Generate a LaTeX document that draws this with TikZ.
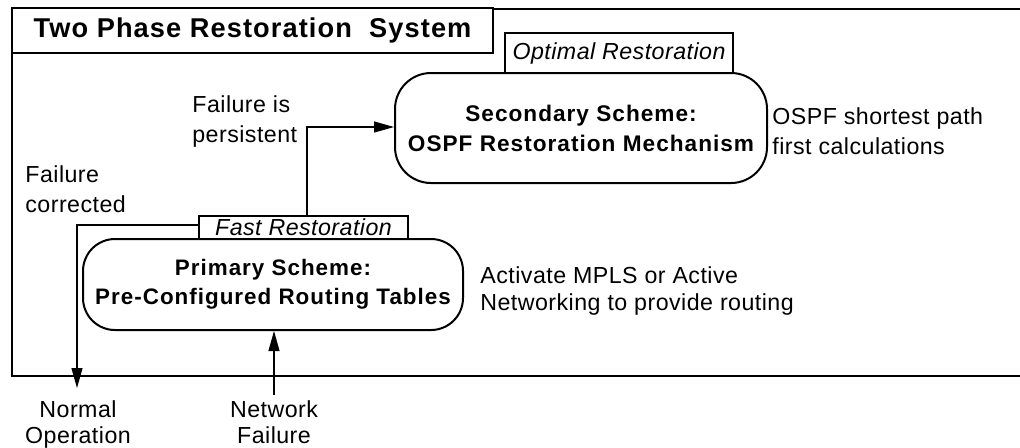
\documentclass[tikz,border=0pt]{standalone}
\usepackage{fontspec}
\setmainfont{Liberation Sans}
\newfontfamily\regf[LetterSpace=2]{Liberation Sans}
\newfontfamily\boldf[LetterSpace=4.5]{Liberation Sans}
\newfontfamily\titlef[LetterSpace=4]{Liberation Sans}
\usetikzlibrary{arrows.meta}
\begin{document}
\begin{tikzpicture}[x=0.5pt,y=-0.5pt,
  frame/.style={line width=1.1pt},
  sbox/.style={draw, line width=1pt, align=center, inner sep=0pt,
    font=\boldf\bfseries\fontsize{11.2}{14.5}\selectfont},
  tabbox/.style={draw, line width=0.9pt, inner sep=0pt,
    font=\regf\itshape\fontsize{11.6}{14}\selectfont},
  lbl/.style={inner sep=0pt, font=\regf\fontsize{11.6}{14.5}\selectfont},
  conn/.style={line width=0.55pt},
  tip/.style={-{Triangle[length=10pt,width=5.5pt]}}]
\useasboundingbox (0,0) rectangle (1020,447);
% outer frame
\draw[frame] (1020,9) -- (12,9) -- (12,376) -- (1020,376);
% title
\node[draw, line width=1pt, fill=white, inner sep=0pt,
  minimum width=240.5pt, minimum height=22.5pt,
  font=\titlef\bfseries\fontsize{13.6}{15}\selectfont] (title) at (252.5,30.5)
  {Two Phase Restoration\ \ System};
% secondary scheme
\node[sbox, rounded corners=18pt, minimum width=186pt, minimum height=55pt,
  font=\boldf\bfseries\fontsize{11.3}{15}\selectfont] (sec) at (581,128)
  {Secondary Scheme:\\OSPF Restoration Mechanism};
\node[tabbox, minimum width=114pt, minimum height=20pt] (opt) at (619,53)
  {Optimal Restoration};
% primary scheme
\node[sbox, rounded corners=16pt, minimum width=190pt, minimum height=45.5pt] (pri) at (273,284.5)
  {Primary Scheme:\\Pre-Configured Routing Tables};
\node[tabbox, minimum width=104.5pt, minimum height=11.5pt] (fast) at (303.5,227.5)
  {Fast Restoration};
% labels (base anchor = baseline of last line)
\node[lbl, align=left, anchor=base west, font=\regf\fontsize{11.6}{15}\selectfont] (persist) at (192,142)
  {Failure is\\persistent};
\node[lbl, align=left, anchor=base west, font=\regf\fontsize{11.6}{15}\selectfont] (fcorr) at (25,212)
  {Failure\\corrected};
\node[lbl, align=left, anchor=base west, font=\regf\fontsize{11.6}{15}\selectfont] (ospf) at (772,154)
  {OSPF shortest path\\first calculations};
\node[lbl, align=left, anchor=base west, font=\regf\fontsize{11.6}{13.5}\selectfont] (mpls) at (480,310)
  {Activate MPLS or Active\\Networking to provide routing};
\node[lbl, align=center, anchor=base, font=\regf\fontsize{11.6}{13}\selectfont] (normal) at (78,443)
  {Normal\\Operation};
\node[lbl, align=center, anchor=base, font=\regf\fontsize{11.6}{13}\selectfont] (netfail) at (274,443)
  {Network\\Failure};
% connectors
\coordinate (pc) at (307,127);
\draw[conn, tip] (pc |- fast.north) -- (pc) -- (pc -| sec.west);
\coordinate (fc) at (77,225);
\coordinate (nt) at (77,388);
\draw[conn, tip] (fast.west |- fc) -- (fc) -- (nt);
\coordinate (nf) at (274,395);
\draw[conn, tip] (nf) -- (nf |- pri.south);
\end{tikzpicture}
\end{document}
